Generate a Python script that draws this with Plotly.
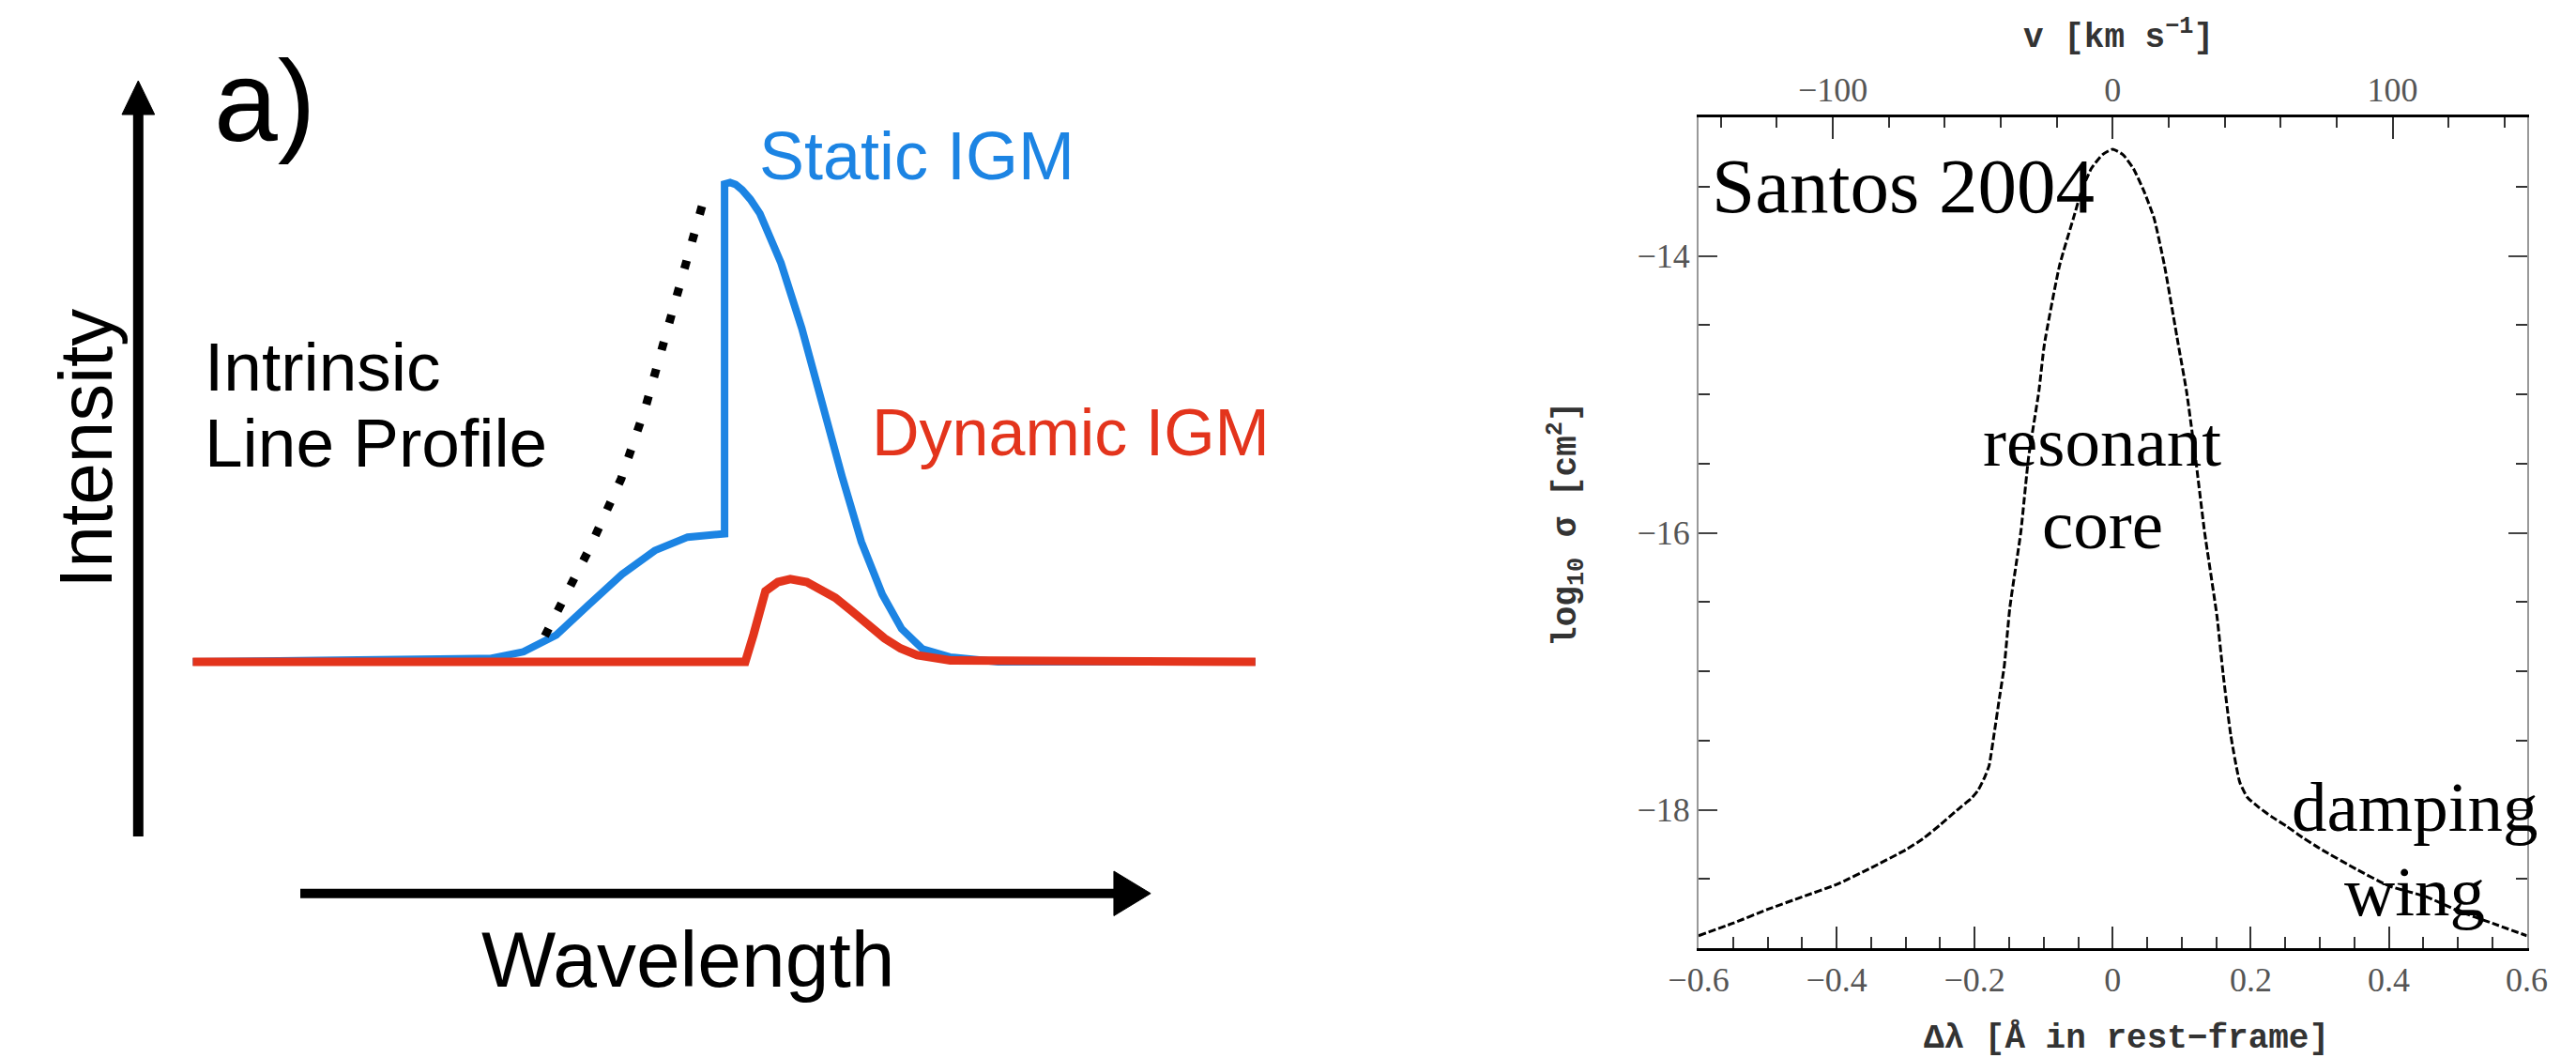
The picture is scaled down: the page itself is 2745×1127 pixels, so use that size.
import plotly.graph_objects as go

W, H = 2745, 1127

# ---------------- Left panel: schematic profiles (arbitrary units) ----------------
static_wl = [-5.785, -3.085, -2.545, -2.188, -1.831, -1.474, -1.116, -0.759, -0.402, 0.0,
             0.0, 0.06, 0.12, 0.19, 0.28, 0.385, 0.613, 0.840, 1.050, 1.278, 1.488, 1.716,
             1.926, 2.153, 2.451, 2.976, 5.775]
static_int = [0.0, 0.003, 0.007, 0.021, 0.056, 0.120, 0.183, 0.233, 0.261, 0.268,
              1.0, 1.003, 0.999, 0.988, 0.968, 0.938, 0.835, 0.698, 0.543, 0.388, 0.251, 0.141,
              0.069, 0.027, 0.010, 0.0, 0.0]

intrinsic_wl = [-1.955, -1.475, -1.125, -0.86, -0.645, -0.43, -0.21]
intrinsic_int = [0.054, 0.235, 0.383, 0.533, 0.680, 0.828, 0.978]

dynamic_wl = [-5.785, 0.225, 0.315, 0.445, 0.58, 0.715, 0.895, 1.025, 1.205, 1.385,
              1.565, 1.741, 1.915, 2.095, 2.455, 5.775]
dynamic_int = [0.0, 0.0, 0.057, 0.148, 0.167, 0.173, 0.167, 0.155, 0.134, 0.106,
               0.078, 0.049, 0.028, 0.014, 0.003, 0.0]

# ---------------- Right panel: Lya cross-section (Santos 2004) ----------------
dlam = [-0.60, -0.55, -0.50, -0.45, -0.40, -0.35, -0.30, -0.275, -0.25, -0.22,
        -0.205, -0.195, -0.185, -0.179, -0.172, -0.164, -0.157, -0.149, -0.133, -0.122,
        -0.107, -0.099, -0.077, -0.057, -0.045, -0.031, -0.015, 0.0, 0.015, 0.030,
        0.045, 0.060, 0.075, 0.095, 0.107, 0.120, 0.133, 0.151, 0.160, 0.171,
        0.184, 0.195, 0.211, 0.230, 0.252, 0.275, 0.300, 0.353, 0.40, 0.455,
        0.50, 0.55, 0.60]
log_sigma = [-18.91, -18.82, -18.72, -18.63, -18.54, -18.42, -18.29, -18.21, -18.11, -17.98,
             -17.92, -17.86, -17.76, -17.68, -17.46, -17.19, -16.96, -16.54, -15.99, -15.46,
             -14.98, -14.64, -14.07, -13.73, -13.53, -13.37, -13.27, -13.23, -13.27, -13.37,
             -13.53, -13.73, -14.07, -14.64, -14.98, -15.46, -15.99, -16.60, -17.02, -17.46,
             -17.80, -17.91, -17.98, -18.05, -18.12, -18.20, -18.28, -18.43, -18.55, -18.63,
             -18.73, -18.82, -18.91]

LYA_A = 1215.67
C_KMS = 299792.458
VMAX = 0.6 / LYA_A * C_KMS

BLUE = "#1c84e3"
RED = "#e3341c"
SANS = "Liberation Sans, Arial, sans-serif"
SERIF = "Liberation Serif, Times New Roman, serif"
MONO = "Liberation Mono, DejaVu Sans Mono, monospace"


def P(x, y):
    return x / W, 1 - y / H


fig = go.Figure()

# left panel curves
fig.add_trace(go.Scatter(x=static_wl, y=static_int, xaxis="x2", yaxis="y2", mode="lines",
                         line=dict(color=BLUE, width=8), hoverinfo="skip"))
fig.add_trace(go.Scatter(x=intrinsic_wl, y=intrinsic_int, xaxis="x2", yaxis="y2", mode="lines",
                         line=dict(color="black", width=9, dash="9px,21px"), hoverinfo="skip"))
fig.add_trace(go.Scatter(x=dynamic_wl, y=dynamic_int, xaxis="x2", yaxis="y2", mode="lines",
                         line=dict(color=RED, width=9), hoverinfo="skip"))

# right panel curve
fig.add_trace(go.Scatter(x=dlam, y=log_sigma, mode="lines",
                         line=dict(color="black", width=3, dash="8px,3px", shape="spline",
                                   smoothing=0.5),
                         hoverinfo="skip"))
# invisible trace to activate the top velocity axis
fig.add_trace(go.Scatter(x=[-100, 100], y=[-16, -16], xaxis="x3", yaxis="y", mode="markers",
                         marker=dict(opacity=0), hoverinfo="skip"))

xd = [1814 / W, 2715 / W]
yd = [1 - 1010 / H, 1 - 125 / H]

tickfont = dict(family=SERIF, size=36, color="#555555")

fig.update_layout(
    width=W, height=H, margin=dict(l=0, r=0, t=0, b=0),
    paper_bgcolor="white", plot_bgcolor="white", showlegend=False,
    xaxis=dict(domain=xd, range=[-0.6, 0.6], anchor="y", showline=True, linecolor="black",
               linewidth=3, mirror=False, ticks="inside", ticklen=23, tickwidth=2,
               tickcolor="#333333", tickmode="linear", tick0=-0.6, dtick=0.2,
               minor=dict(ticks="inside", ticklen=12, tickwidth=2, tickcolor="#333333",
                          tick0=-0.6, dtick=0.05, showgrid=False),
               showgrid=False, zeroline=False, tickfont=tickfont),
    xaxis3=dict(overlaying="x", side="top", anchor="y", range=[-VMAX, VMAX], showline=True,
                linecolor="black", linewidth=3, ticks="inside", ticklen=23, tickwidth=2,
                tickcolor="#333333", tickmode="linear", tick0=0, dtick=100,
                minor=dict(ticks="inside", ticklen=11, tickwidth=2, tickcolor="#333333",
                           tick0=0, dtick=20, showgrid=False),
                showgrid=False, zeroline=False, tickfont=tickfont),
    yaxis=dict(domain=yd, range=[-19, -13], anchor="x", showline=True, linecolor="#999999",
               linewidth=2, mirror="ticks", ticks="inside", ticklen=20, tickwidth=2,
               tickcolor="#444444", tickmode="linear", tick0=-14, dtick=2,
               minor=dict(ticks="inside", ticklen=12, tickwidth=2, tickcolor="#333333",
                          tick0=-13, dtick=0.5, showgrid=False),
               showgrid=False, zeroline=False, tickfont=tickfont),
    xaxis2=dict(domain=[0, 1500 / W], range=[-7.545, 7.455], anchor="y2", visible=False),
    yaxis2=dict(domain=[0, 1], range=[(705 - 1127) / 509, 705 / 509], anchor="x2",
                visible=False),
)

shapes = []
# y arrow
x0, y0 = P(116.7, 891)
x1, y1 = P(116.7, 115)
shapes.append(dict(type="line", xref="paper", yref="paper", x0=x0, y0=y0, x1=x1, y1=y1,
                   line=dict(color="black", width=11)))
a, b = P(116.7, 86)
c, d = P(99, 122)
e, f = P(134.5, 122)
shapes.append(dict(type="path", xref="paper", yref="paper",
                   path=f"M {a} {b} L {c} {d} L {e} {f} Z", fillcolor="black",
                   line=dict(color="black", width=1)))
# x arrow
x0, y0 = P(293, 951.7)
x1, y1 = P(1182, 951.7)
shapes.append(dict(type="line", xref="paper", yref="paper", x0=x0, y0=y0, x1=x1, y1=y1,
                   line=dict(color="black", width=10)))
a, b = P(1218, 951.7)
c, d = P(1178, 928)
e, f = P(1178, 975.5)
shapes.append(dict(type="path", xref="paper", yref="paper",
                   path=f"M {a} {b} L {c} {d} L {e} {f} Z", fillcolor="black",
                   line=dict(color="black", width=1)))
fig.update_layout(shapes=shapes)


def ann(text, x, y, size, color="black", family=SANS, xanchor="left", yanchor="middle",
        angle=0):
    px, py = P(x, y)
    fig.add_annotation(text=text, x=px, y=py, xref="paper", yref="paper", showarrow=False,
                       xanchor=xanchor, yanchor=yanchor, textangle=angle,
                       font=dict(family=family, size=size, color=color))


# left panel text
ann("a)", 197, 108, 122)
ann("Static IGM", 790, 166, 72, color=BLUE)
ann("Dynamic IGM", 913, 461, 70, color=RED)
ann("Intrinsic", 187, 390, 73)
ann("Line Profile", 187, 472, 73)
ann("Intensity", 59, 478, 80, xanchor="center", angle=-90)
ann("Wavelength", 715, 1022, 84, xanchor="center")

# right panel text
ann("Santos 2004", 1826, 198, 83, family=SERIF)
ann("resonant", 2253, 470, 75, family=SERIF, xanchor="center")
ann("core", 2253, 558, 75, family=SERIF, xanchor="center")
ann("damping", 2593, 859, 75, family=SERIF, xanchor="center")
ann("wing", 2593, 949, 75, family=SERIF, xanchor="center")

# axis titles
ann("<b>v [km s<sup>−1</sup>]</b>", 2271, 37, 36, color="#333333", family=MONO, xanchor="center")
ann("<b>Δλ [Å in rest−frame]</b>", 2279, 1106, 36, color="#333333", family=MONO, xanchor="center")
ann("<b>log<sub>10</sub> σ [cm<sup>2</sup>]</b>", 1670, 558, 36, color="#333333", family=MONO,
    xanchor="center", angle=-90)

fig.write_html("out.html")
